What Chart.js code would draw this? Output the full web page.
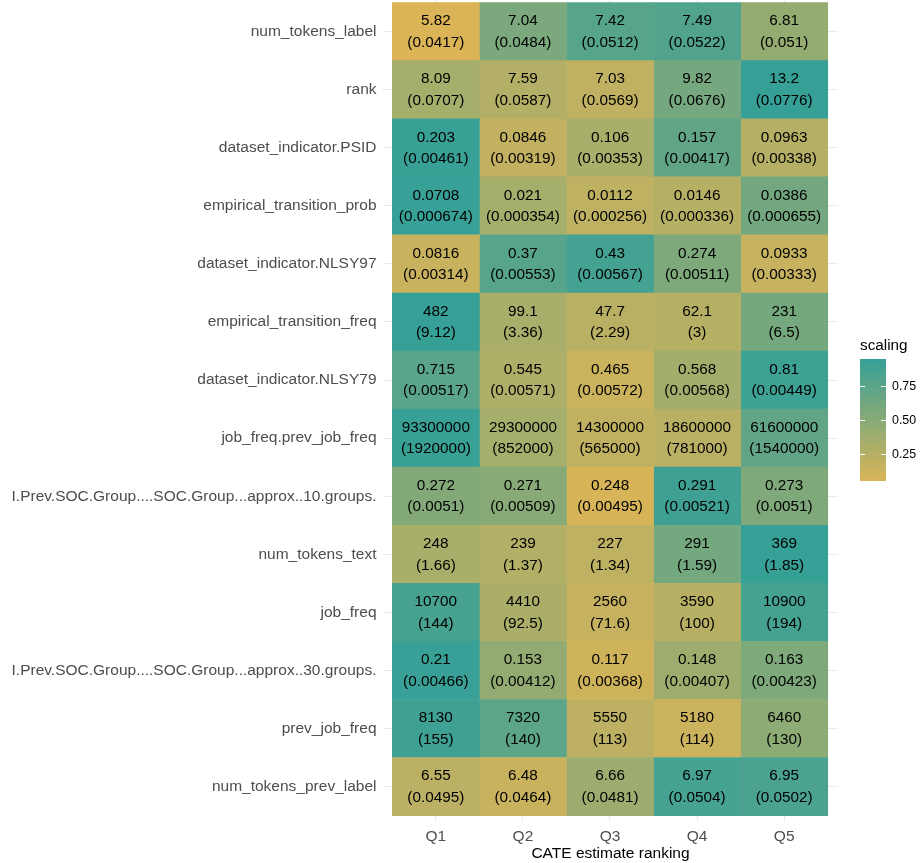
<!DOCTYPE html>
<html>
<head>
<meta charset="utf-8">
<script src="https://cdn.jsdelivr.net/npm/chart.js@4.4.1/dist/chart.umd.min.js"></script>
<style>
  html, body { margin: 0; padding: 0; background: #fff; }
</style>
</head>
<body>
<canvas id="heatChart" width="920" height="863"></canvas>
<script>
// columns (x) and rows (y, top to bottom)
var quintiles = ['Q1', 'Q2', 'Q3', 'Q4', 'Q5'];
var features = [
  'num_tokens_label',
  'rank',
  'dataset_indicator.PSID',
  'empirical_transition_prob',
  'dataset_indicator.NLSY97',
  'empirical_transition_freq',
  'dataset_indicator.NLSY79',
  'job_freq.prev_job_freq',
  'I.Prev.SOC.Group....SOC.Group...approx..10.groups.',
  'num_tokens_text',
  'job_freq',
  'I.Prev.SOC.Group....SOC.Group...approx..30.groups.',
  'prev_job_freq',
  'num_tokens_prev_label'
];

// mean per quintile
var means = [
  [5.82, 7.04, 7.42, 7.49, 6.81],
  [8.09, 7.59, 7.03, 9.82, 13.2],
  [0.203, 0.0846, 0.106, 0.157, 0.0963],
  [0.0708, 0.021, 0.0112, 0.0146, 0.0386],
  [0.0816, 0.37, 0.43, 0.274, 0.0933],
  [482, 99.1, 47.7, 62.1, 231],
  [0.715, 0.545, 0.465, 0.568, 0.81],
  [93300000, 29300000, 14300000, 18600000, 61600000],
  [0.272, 0.271, 0.248, 0.291, 0.273],
  [248, 239, 227, 291, 369],
  [10700, 4410, 2560, 3590, 10900],
  [0.21, 0.153, 0.117, 0.148, 0.163],
  [8130, 7320, 5550, 5180, 6460],
  [6.55, 6.48, 6.66, 6.97, 6.95]
];

// standard errors
var stdErrs = [
  [0.0417, 0.0484, 0.0512, 0.0522, 0.051],
  [0.0707, 0.0587, 0.0569, 0.0676, 0.0776],
  [0.00461, 0.00319, 0.00353, 0.00417, 0.00338],
  [0.000674, 0.000354, 0.000256, 0.000336, 0.000655],
  [0.00314, 0.00553, 0.00567, 0.00511, 0.00333],
  [9.12, 3.36, 2.29, 3, 6.5],
  [0.00517, 0.00571, 0.00572, 0.00568, 0.00449],
  [1920000, 852000, 565000, 781000, 1540000],
  [0.0051, 0.00509, 0.00495, 0.00521, 0.0051],
  [1.66, 1.37, 1.34, 1.59, 1.85],
  [144, 92.5, 71.6, 100, 194],
  [0.00466, 0.00412, 0.00368, 0.00407, 0.00423],
  [155, 140, 113, 114, 130],
  [0.0495, 0.0464, 0.0481, 0.0504, 0.0502]
];

var legendTicks = [0.25, 0.5, 0.75];
var lowColor = [218, 180, 87];
var highColor = [54, 160, 151];

// normal cdf
function pnorm(z) {
  var x = Math.abs(z) / Math.SQRT2;
  var t = 1 / (1 + 0.3275911 * x);
  var y = 1 - (((((1.061405429 * t - 1.453152027) * t) + 1.421413741) * t - 0.284496736) * t + 0.254829592) * t * Math.exp(-x * x);
  return z >= 0 ? 0.5 * (1 + y) : 0.5 * (1 - y);
}

// scaling = pnorm of row-wise z score
var scaling = means.map(function(row) {
  var n = row.length;
  var m = row.reduce(function(a, b) { return a + b; }, 0) / n;
  var sd = Math.sqrt(row.reduce(function(a, b) { return a + (b - m) * (b - m); }, 0) / (n - 1));
  return row.map(function(v) { return pnorm((v - m) / sd); });
});
var allS = [].concat.apply([], scaling);
var sMin = Math.min.apply(null, allS);
var sMax = Math.max.apply(null, allS);

function colorAt(t) {
  var c = lowColor.map(function(lo, k) { return Math.round(lo + (highColor[k] - lo) * t); });
  return 'rgb(' + c[0] + ',' + c[1] + ',' + c[2] + ')';
}
function fillFor(s) {
  return colorAt((s - sMin) / (sMax - sMin));
}

var fontFamily = '"Liberation Sans", Arial, sans-serif';

var datasets = quintiles.map(function(q, j) {
  return {
    label: q,
    data: features.map(function(f, i) { return { x: [j, j + 1], y: i }; }),
    backgroundColor: features.map(function(f, i) { return fillFor(scaling[i][j]); }),
    borderWidth: 0,
    barPercentage: 1,
    categoryPercentage: 1,
    grouped: false
  };
});

// cell labels: mean and (se)
var cellText = {
  id: 'cellText',
  afterDatasetsDraw: function(chart) {
    var ctx = chart.ctx;
    var xs = chart.scales.x, ys = chart.scales.y;
    ctx.save();
    ctx.fillStyle = '#000';
    ctx.font = '15.3px ' + fontFamily;
    ctx.textAlign = 'center';
    ctx.textBaseline = 'middle';
    for (var i = 0; i < features.length; i++) {
      for (var j = 0; j < quintiles.length; j++) {
        var px = xs.getPixelForValue(j + 0.5);
        var py = ys.getPixelForValue(i);
        ctx.fillText(String(means[i][j]), px, py - 10.5);
        ctx.fillText('(' + String(stdErrs[i][j]) + ')', px, py + 11);
      }
    }
    ctx.restore();
  }
};

// colourbar legend
var colourBar = {
  id: 'colourBar',
  afterDraw: function(chart) {
    var ctx = chart.ctx;
    var x0 = 860, w = 26, top = 359, bottom = 481;
    ctx.save();
    ctx.fillStyle = '#000';
    ctx.font = '15.3px ' + fontFamily;
    ctx.textAlign = 'left';
    ctx.textBaseline = 'middle';
    ctx.fillText('scaling', 860, 346);

    var grad = ctx.createLinearGradient(0, bottom, 0, top);
    for (var k = 0; k <= 10; k++) grad.addColorStop(k / 10, colorAt(k / 10));
    ctx.fillStyle = grad;
    ctx.fillRect(x0, top, w, bottom - top);

    ctx.strokeStyle = '#fff';
    ctx.lineWidth = 1;
    ctx.font = '12.4px ' + fontFamily;
    legendTicks.forEach(function(v) {
      var y = bottom - (v - sMin) / (sMax - sMin) * (bottom - top);
      y = Math.round(y) + 0.5;
      ctx.beginPath();
      ctx.moveTo(x0, y); ctx.lineTo(x0 + 5, y);
      ctx.moveTo(x0 + w - 5, y); ctx.lineTo(x0 + w, y);
      ctx.stroke();
      ctx.fillStyle = '#000';
      ctx.fillText(v.toFixed(2), 892, y);
    });
    ctx.restore();
  }
};

new Chart(document.getElementById('heatChart').getContext('2d'), {
  type: 'bar',
  data: { datasets: datasets },
  options: {
    indexAxis: 'y',
    responsive: false,
    animation: false,
    layout: { padding: { left: 0, right: 82, top: 0, bottom: 0 } },
    plugins: {
      legend: { display: false },
      tooltip: { enabled: false }
    },
    scales: {
      x: {
        type: 'linear',
        min: -0.107,
        max: 5.118,
        offset: false,
        afterBuildTicks: function(scale) {
          scale.ticks = quintiles.map(function(q, j) { return { value: j + 0.5 }; });
        },
        afterFit: function(scale) {
          scale.height = 41;
          scale.paddingLeft = 0;
          scale.paddingRight = 0;
        },
        grid: { color: '#EBEBEB', lineWidth: 1.07, drawTicks: false, offset: false },
        border: { display: false },
        ticks: {
          autoSkip: false,
          padding: 5,
          color: '#4D4D4D',
          font: { family: fontFamily, size: 15.5 },
          callback: function(v) { return quintiles[Math.round(v - 0.5)]; }
        },
        title: {
          display: true,
          text: 'CATE estimate ranking',
          color: '#000',
          padding: { top: 0, bottom: 0 },
          font: { family: fontFamily, size: 15.5 }
        }
      },
      y: {
        type: 'linear',
        reverse: true,
        min: -0.545,
        max: 13.61,
        offset: false,
        afterBuildTicks: function(scale) {
          scale.ticks = features.map(function(f, i) { return { value: i }; });
        },
        afterFit: function(scale) {
          scale.width = 383;
          scale.paddingTop = 0;
          scale.paddingBottom = 0;
        },
        grid: { color: '#EBEBEB', lineWidth: 1.07, drawTicks: false, offset: false },
        border: { display: false },
        ticks: {
          autoSkip: false,
          padding: 6.5,
          color: '#4D4D4D',
          font: { family: fontFamily, size: 15.5, lineHeight: 0.01 },
          callback: function(v) { return features[v]; }
        }
      }
    }
  },
  plugins: [cellText, colourBar]
});
</script>
</body>
</html>
